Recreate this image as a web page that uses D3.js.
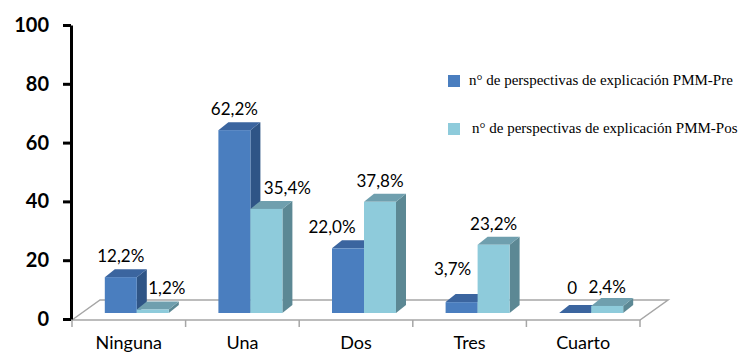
<!DOCTYPE html>
<html>
<head>
<meta charset="utf-8">
<script src="https://d3js.org/d3.v7.min.js"></script>
<style>
    body { margin: 0; background: #fff; }
    svg { display: block; }
</style>
</head>
<body>
<div id="chart"></div>
<script>

    // chart data
    var categories = ["Ninguna", "Una", "Dos", "Tres", "Cuarto"];
    var preValues = [12.2, 62.2, 22.0, 3.7, 0];
    var posValues = [1.2, 35.4, 37.8, 23.2, 2.4];
    var preLabels = ["12,2%", "62,2%", "22,0%", "3,7%", "0"];
    var posLabels = ["1,2%", "35,4%", "37,8%", "23,2%", "2,4%"];
    var seriesNames = ["n° de perspectivas de explicación PMM-Pre", "n° de perspectivas de explicación PMM-Pos"];
    var yTicks = [0, 20, 40, 60, 80, 100];

    // hand-placed label nudges (as in the original sheet)
    var preNudge = [[0, 0], [0, 0], [-16, 0], [-9, -12], [-3, -4]];
    var posNudge = [[14, 0], [21, 0], [0, 0], [0, 0], [0, 2]];

    var W = 746, H = 362;
    var floorDepth = { x: 28, y: -20 };   // depth of the 3D floor
    var plane = { x: 8, y: -6 };          // where the bars stand on the floor
    var bar3d = { x: 10, y: -8 };         // depth of each bar
    var barW = 32;

    var colors = {
        pre: { front: "#4a7ebf", top: "#3b659f", side: "#2f5586" },
        pos: { front: "#8ecbdb", top: "#6f9fae", side: "#5c8894" }
    };

    var svg = d3.select("#chart").append("svg")
        .attr("width", W)
        .attr("height", H);

    var y = d3.scaleLinear().domain([0, 100]).range([319, 25]);
    var x = d3.scaleBand().domain(categories).range([72, 640]).padding(0);
    var xs = d3.scaleBand().domain(["pre", "pos"]).range([0, barW * 2]);

    // floor
    var f = y(0) + 1, fx0 = x.range()[0], fx1 = x.range()[1];
    svg.append("polygon")
        .attr("points", [[fx0, f], [fx0 + floorDepth.x, f + floorDepth.y],
            [fx1 + floorDepth.x, f + floorDepth.y], [fx1, f]].join(" "))
        .attr("fill", "#fff")
        .attr("stroke", "#a6a6a6")
        .attr("stroke-width", 1.5);

    // category boundary ticks
    var bounds = categories.map(function (c) { return x(c) }).concat([fx1]);
    svg.selectAll(".ctick").data(bounds).enter().append("line")
        .attr("x1", function (d) { return d })
        .attr("x2", function (d) { return d })
        .attr("y1", f)
        .attr("y2", f + 7)
        .attr("stroke", "#a6a6a6")
        .attr("stroke-width", 1.5);

    svg.selectAll(".clab").data(categories).enter().append("text")
        .attr("x", function (d) { return x(d) + x.bandwidth() / 2 })
        .attr("y", 349)
        .attr("text-anchor", "middle")
        .style("font-family", "Lato, sans-serif")
        .style("font-size", "18px")
        .attr("fill", "#000")
        .text(function (d) { return d });

    // bars
    function drawBar(g, x0, v, col) {
        var base = y(0) + plane.y;
        var top = y(v) + plane.y;
        g.append("polygon")
            .attr("points", [[x0 + barW, top], [x0 + barW + bar3d.x, top + bar3d.y],
                [x0 + barW + bar3d.x, base + bar3d.y], [x0 + barW, base]].join(" "))
            .attr("fill", col.side);
        g.append("polygon")
            .attr("points", [[x0, top], [x0 + bar3d.x, top + bar3d.y],
                [x0 + barW + bar3d.x, top + bar3d.y], [x0 + barW, top]].join(" "))
            .attr("fill", col.top);
        g.append("rect")
            .attr("x", x0)
            .attr("y", top)
            .attr("width", barW)
            .attr("height", base - top)
            .attr("fill", col.front);
    }

    var bars = svg.append("g");
    var labels = svg.append("g")
        .style("font-family", "Lato, sans-serif")
        .style("font-size", "17px")
        .attr("text-anchor", "middle")
        .attr("fill", "#000");

    categories.forEach(function (c, i) {
        var gx = x(c) + (x.bandwidth() - barW * 2) / 2 + plane.x;
        var series = [
            { key: "pre", v: preValues[i], lab: preLabels[i], n: preNudge[i] },
            { key: "pos", v: posValues[i], lab: posLabels[i], n: posNudge[i] }
        ];
        series.forEach(function (s) {
            var x0 = gx + xs(s.key);
            drawBar(bars, x0, s.v, colors[s.key]);
            labels.append("text")
                .attr("x", x0 + barW / 2 + s.n[0])
                .attr("y", y(s.v) + plane.y + bar3d.y - 7 + s.n[1])
                .text(s.lab);
        });
    });

    // y axis
    var yAxis = svg.append("g")
        .attr("transform", "translate(71,0)")
        .call(d3.axisLeft(y).tickValues(yTicks).tickSize(8).tickSizeOuter(0).tickPadding(14));
    yAxis.select(".domain").attr("stroke", "#000").attr("stroke-width", 3);
    yAxis.selectAll(".tick line").attr("stroke", "#000").attr("stroke-width", 3);
    yAxis.selectAll(".tick text")
        .style("font-family", "Lato, sans-serif")
        .style("font-size", "20px")
        .style("font-weight", "bold")
        .attr("fill", "#000");

    // legend
    var legend = svg.append("g");
    var legRows = [
        { name: seriesNames[0], color: colors.pre.front, ry: 75, tx: 469 },
        { name: seriesNames[1], color: colors.pos.front, ry: 123, tx: 472 }
    ];
    legRows.forEach(function (r) {
        legend.append("rect")
            .attr("x", 448).attr("y", r.ry)
            .attr("width", 12).attr("height", 12)
            .attr("fill", r.color);
        legend.append("text")
            .attr("x", r.tx).attr("y", r.ry + 10)
            .style("font-family", "'Liberation Serif', serif")
            .style("font-size", "15px")
            .attr("fill", "#000")
            .text(r.name);
    });

</script>
</body>
</html>
